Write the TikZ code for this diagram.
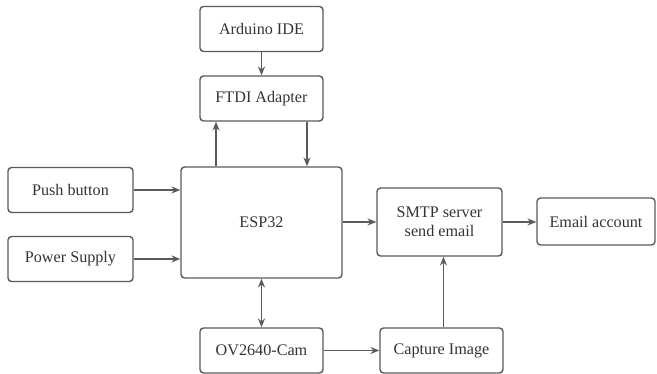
\documentclass[tikz,border=0pt]{standalone}
\usepackage{fontspec}
\setmainfont{Liberation Serif}
\usetikzlibrary{arrows.meta}

\definecolor{linegray}{HTML}{5A5A5A}
\definecolor{textgray}{HTML}{333333}

\tikzstyle{block} = [draw=linegray, line width=0.8pt, rounded corners=2pt, text=textgray,
    font=\fontsize{9.2}{11}\selectfont, align=center, inner sep=0pt,
    minimum width=2.46cm, minimum height=0.9cm]
\tikzstyle{arr} = [draw=linegray, line width=0.8pt, -{Stealth[length=5pt,width=4pt]}]

\begin{document}
\begin{tikzpicture}[x=0.02cm, y=-0.02cm]
\useasboundingbox (0,0) rectangle (657,374);
\node[block] (arduino) at (261.5,29) {Arduino IDE};
\node[block] (ftdi) at (261.5,98.5) {FTDI Adapter};
\node[block, minimum width=2.5cm] (push) at (70.5,190) {Push button};
\node[block, minimum width=2.5cm] (power) at (70.5,259) {Power Supply};
\node[block, minimum width=3.22cm, minimum height=2.22cm] (esp) at (261.5,222.5) {ESP32};
\node[block, minimum width=2.5cm, minimum height=1.36cm] (smtp) at (439.5,222) {SMTP server\\send email};
\node[block, minimum width=2.36cm, minimum height=0.94cm] (email) at (596,221.5) {Email account};
\node[block] (cam) at (261.5,350.5) {OV2640-Cam};
\node[block] (capture) at (441.5,350.5) {Capture Image};

\draw[arr] (arduino) -- (ftdi);
\draw[arr] ([xshift=-0.91cm]esp.north) -- ([xshift=-0.91cm]ftdi.south);
\draw[arr] ([xshift=0.91cm]ftdi.south) -- ([xshift=0.91cm]esp.north);
\draw[arr] (push.east) -- (push.east -| esp.west);
\draw[arr] (power.east) -- (power.east -| esp.west);
\draw[arr] (esp.east |- smtp.west) -- (smtp.west);
\draw[arr] (smtp.east) -- (smtp.east -| email.west);
\draw[arr, {Stealth[length=5pt,width=4pt]}-{Stealth[length=5pt,width=4pt]}] (esp) -- (cam);
\draw[arr] (cam) -- (capture);
\draw[arr] ([xshift=0.04cm]capture.north) -- ([xshift=0.04cm]capture.north |- smtp.south);
\end{tikzpicture}
\end{document}
